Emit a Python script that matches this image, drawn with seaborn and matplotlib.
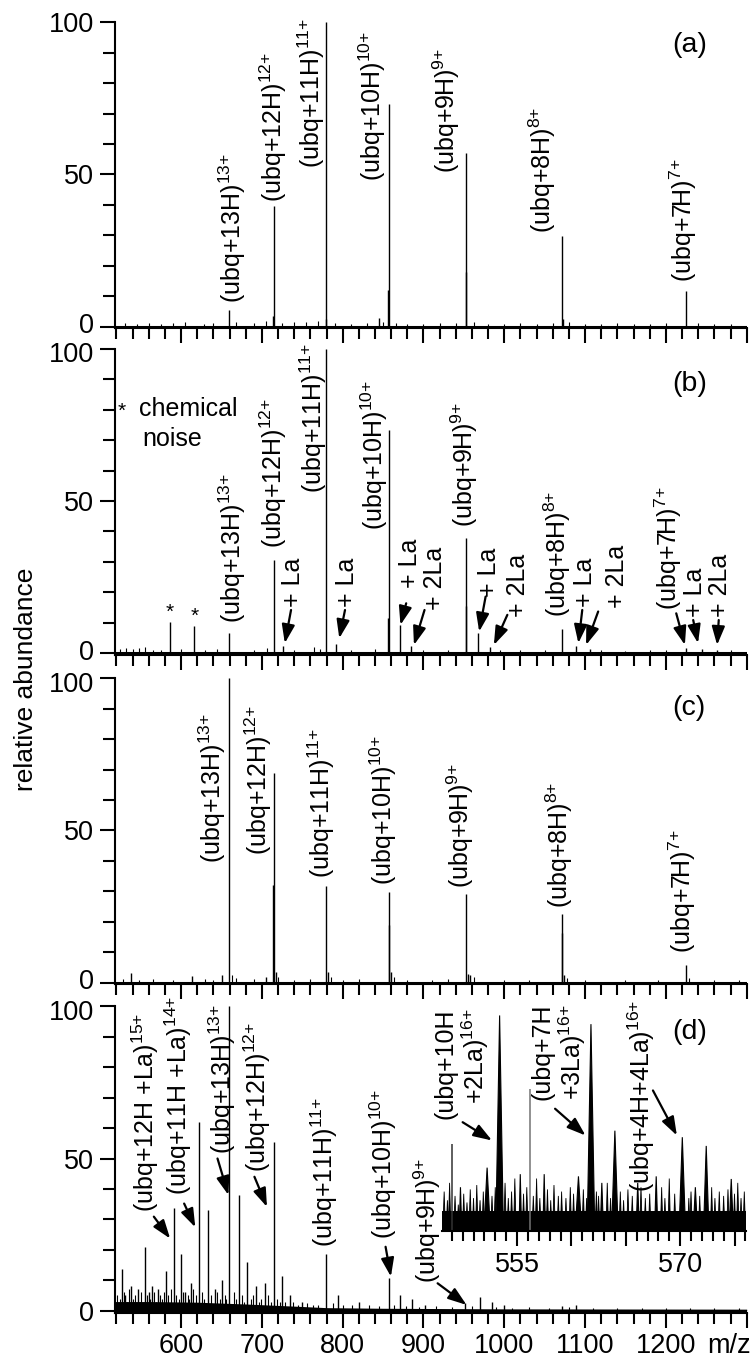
import matplotlib
matplotlib.use('Agg')  # no display
import matplotlib.pyplot as plt
import matplotlib.transforms as mtransforms
import seaborn as sns
from matplotlib import font_manager

# ---------------------------------------------------------------------------
# data: (m/z, relative abundance)
# ---------------------------------------------------------------------------
a_peaks = [(659.8, 5.5), (714.7, 39.5), (714.3, 3.5), (779.6, 100), (779.0, 2.5),
           (857.5, 73), (855.6, 12), (844.7, 2.7), (952.7, 57), (952.2, 18),
           (1071.7, 29.8), (1072.5, 2.5), (1224.6, 11.7)]
b_peaks = [(586.5, 10.4), (616.3, 9.1), (659.8, 6.6), (714.7, 30.6), (726.1, 2.5),
           (779.6, 100), (792.1, 3.0), (857.5, 73.5), (855.6, 11.5), (871.1, 9.3),
           (884.5, 2.5), (952.7, 38), (952.2, 15.5), (967.8, 6.6), (982.5, 2.0),
           (1071.7, 7.9), (1088.6, 2.5), (1105.5, 1.5), (1224.6, 1.6), (1244.4, 1.5),
           (1263.4, 1.2)]
c_peaks = [(537.6, 3.1), (613.3, 2.3), (650.9, 2.5), (659.8, 100), (704.5, 2.0),
           (714.7, 68.9), (714.2, 32), (717.0, 3.5), (779.6, 31.8), (782.0, 3.5),
           (857.5, 29.9), (856.8, 19), (860.0, 3.5), (952.7, 29), (955.0, 3.0),
           (958.0, 2.5), (1071.7, 22.6), (1071.2, 16.4), (1074.0, 2.5), (1224.6, 5.8)]
d_peaks = [(526.8, 13.6), (531.0, 5), (537.6, 8), (546.5, 7), (555.4, 21), (560.0, 6),
           (564.4, 8), (571.7, 7), (581.7, 13), (591.2, 33.6), (599.6, 18.5), (605.0, 6),
           (612.1, 9), (622.8, 62), (633.0, 33), (641.9, 7), (650.9, 10), (659.8, 100),
           (671.1, 38), (681.9, 16), (692.6, 8), (703.3, 9), (714.7, 55.5), (725.4, 11.5),
           (734.3, 5), (749.2, 3), (779.6, 18.5), (794.0, 5), (820.8, 3), (857.5, 10.6),
           (871.5, 5), (886.4, 4), (901.3, 2), (952.0, 2.5), (969.9, 4.5), (984.8, 3),
           (999.7, 2), (1071.2, 1.5), (1089.1, 2)]

# low baseline grass
a_grass = [(530, 1.2), (545, 1.0), (560, 1.3), (575, 0.9), (590, 1.1), (605, 1.4),
           (628, 1.0), (640, 1.2), (668, 1.5), (690, 1.1), (705, 1.8), (725, 1.3),
           (740, 1.6), (755, 1.4), (770, 1.9), (790, 1.2), (810, 1.0), (830, 1.1),
           (850, 1.5), (866, 1.3), (880, 1.0), (900, 0.9), (920, 1.2), (940, 1.1),
           (962, 1.6), (980, 1.0), (1000, 0.9), (1020, 1.2), (1040, 1.0), (1060, 1.1),
           (1080, 1.4), (1100, 1.0), (1120, 0.8), (1140, 1.2), (1160, 0.9), (1180, 1.0),
           (1200, 1.1), (1240, 1.3), (1260, 0.9), (1280, 1.0)]
b_grass = [(525, 1.5), (532, 1.8), (540, 1.4), (548, 1.6), (555, 2.0), (565, 1.2),
           (575, 1.0), (600, 1.3), (630, 1.1), (645, 1.5), (690, 1.0), (706, 1.6),
           (740, 1.2), (765, 1.9), (772, 1.4), (810, 1.0), (840, 1.3), (900, 1.2),
           (930, 1.0), (995, 1.1), (1020, 1.0), (1050, 0.9), (1120, 1.0), (1150, 0.8),
           (1180, 1.0), (1200, 0.9), (1280, 1.0)]
c_grass = [(528, 1.2), (548, 1.0), (565, 1.1), (590, 1.0), (630, 1.2), (640, 1.0),
           (663, 2.5), (668, 1.5), (690, 1.1), (720, 2.0), (740, 1.0), (760, 1.1),
           (785, 2.0), (800, 1.0), (820, 1.1), (863, 2.0), (880, 1.0), (910, 1.0),
           (930, 1.1), (962, 2.0), (1000, 1.0), (1030, 1.0), (1078, 1.5), (1100, 1.0),
           (1150, 0.9), (1190, 1.0), (1228, 1.5), (1260, 0.9), (1290, 1.0)]
d_grass = [(521, 5), (524, 4), (529, 6), (533, 3), (535, 7), (540, 4), (543, 5), (549, 3),
           (551, 6), (558, 5), (562, 4), (567, 6), (569, 3), (574, 5), (577, 4), (579, 6),
           (584, 5), (587, 7), (594, 5), (597, 4), (602, 6), (608, 5), (610, 4), (615, 7),
           (618, 5), (626, 6), (629, 4), (637, 5), (645, 6), (648, 4), (654, 5), (656, 4),
           (665, 6), (668, 4), (675, 5), (678, 3), (686, 4), (689, 5), (696, 3), (699, 4),
           (708, 5), (711, 3), (719, 4), (722, 3), (729, 3), (738, 3), (745, 2), (756, 2.5),
           (763, 2), (770, 2), (788, 2.5), (800, 2), (812, 1.8), (832, 2), (845, 1.5),
           (864, 1.8), (878, 1.5), (895, 1.2), (915, 1.5), (935, 1.2), (960, 1.5),
           (990, 1.2), (1010, 1.0), (1030, 1.2), (1055, 1.0), (1080, 1.1), (1110, 1.0),
           (1140, 0.9), (1170, 1.0), (1200, 0.9), (1230, 1.0), (1260, 0.8), (1290, 1.0)]
# dense noise band under the (d) spectrum
d_floor_mz = [518.6, 560, 620, 680, 740, 780, 850, 1000, 1300]
d_floor = [3.0, 3.0, 2.8, 2.2, 1.5, 1.0, 0.8, 0.6, 0.5]

# peak labels: (text, charge, m/z of label centre, label bottom)
a_labels = [('(ubq+13H)', '13', 662.8, 7.7), ('(ubq+12H)', '12', 714.7, 41),
            ('(ubq+11H)', '11', 761.2, 52), ('(ubq+10H)', '10', 836.9, 47.7),
            ('(ubq+9H)', '9', 928.1, 50.4), ('(ubq+8H)', '8', 1047.4, 30.7),
            ('(ubq+7H)', '7', 1222, 14.8)]
b_labels = [('(ubq+13H)', '13', 662.8, 9.8), ('(ubq+12H)', '12', 714.7, 34.5),
            ('(ubq+11H)', '11', 764.2, 52.5), ('(ubq+10H)', '10', 838.7, 40.5),
            ('(ubq+9H)', '9', 950.0, 41.6), ('(ubq+8H)', '8', 1066.0, 12),
            ('(ubq+7H)', '7', 1202.4, 14.2)]
c_labels = [('(ubq+13H)', '13', 638.9, 39.3), ('(ubq+12H)', '12', 695.6, 42),
            ('(ubq+11H)', '11', 773.1, 34.3), ('(ubq+10H)', '10', 850.6, 32.1),
            ('(ubq+9H)', '9', 946.0, 31), ('(ubq+8H)', '8', 1068.3, 24.5),
            ('(ubq+7H)', '7', 1220.3, 9.6)]
d_labels = [('(ubq+12H +La)', '15', 555.5, 32.5), ('(ubq+11H +La)', '14', 597.0, 38),
            ('(ubq+13H)', '13', 650.9, 51.6), ('(ubq+12H)', '12', 693.8, 45.6),
            ('(ubq+11H)', '11', 777.3, 21), ('(ubq+10H)', '10', 850.6, 23.7),
            ('(ubq+9H)', '9', 904.3, 9)]

# adduct labels in (b): (text, m/z, bottom)
b_adduct_labels = [('+ La', 738.5, 15.3), ('+ La', 805.9, 15.3), ('+ La', 883.5, 21.3),
                   ('+ 2La', 914.5, 14.2), ('+ La', 980.5, 18.6), ('+ 2La', 1017.0, 12),
                   ('+ La', 1100.0, 15.3), ('+ 2La', 1140.0, 14.8), ('+ La', 1235.5, 12),
                   ('+ 2La', 1267.5, 12)]
# arrows: (tail m/z, tail y, tip m/z, tip y)
b_arrows = [(736.1, 14.2, 728.4, 3.3), (802.9, 14.2, 795.8, 4.9), (878.6, 16.4, 871.5, 9.3),
            (901.3, 14.2, 888.2, 2.7), (976.9, 18.6, 968.9, 7.1), (1003.8, 12.6, 987.1, 2.7),
            (1096.5, 14.2, 1091.7, 3.3), (1116.2, 13.7, 1101.2, 2.7), (1233.8, 10.9, 1239.8, 3.3),
            (1265.4, 10.9, 1263.4, 2.7), (1212.8, 13.1, 1223.5, 2.7)]
b_stars = [(586.5, 13.5), (616.3, 12.0)]
d_arrows = [(566.3, 30.9, 586.5, 23.7), (603.8, 35.2, 617.6, 27.4), (645.1, 50, 658.6, 38),
            (690.8, 44, 706.3, 34.1), (853.1, 21, 859.7, 11.2), (917.5, 9, 953.3, 1.9)]

# inset of (d): broad peaks (m/z, height, half width), thin lines, noise
inset_peaks = [(552.25, 29, 0.3), (553.4, 99, 0.35), (555.3, 26, 0.12), (557.5, 26, 0.12),
               (560.65, 25, 0.3), (561.8, 95, 0.35), (562.8, 22, 0.15), (564.0, 46, 0.3),
               (566.1, 22, 0.15), (567.8, 25, 0.15), (570.2, 43, 0.3), (571.4, 20, 0.2),
               (572.4, 39, 0.25), (574.7, 23.8, 0.2), (549.8, 20, 0.12)]
inset_thin = [(549.0, 40, '0.2'), (556.2, 65, '0.45')]
inset_grass = [(548.3, 18), (548.6, 14), (548.8, 22), (549.3, 16), (549.6, 12), (550.1, 17),
               (550.4, 13), (550.7, 19), (551.0, 15), (551.3, 21), (551.6, 14), (551.9, 18),
               (552.7, 16), (553.0, 20), (553.9, 22), (554.2, 15), (554.5, 18), (554.8, 24),
               (555.6, 17), (555.9, 20), (556.5, 16), (556.8, 24), (557.1, 15), (557.8, 19),
               (558.1, 14), (558.4, 21), (558.8, 16), (559.1, 18), (559.5, 15), (559.9, 20),
               (560.2, 17), (561.1, 19), (561.4, 15), (562.3, 18), (562.5, 16), (563.3, 22),
               (563.6, 15), (564.5, 18), (564.8, 14), (565.2, 19), (565.6, 16), (566.4, 20),
               (566.8, 15), (567.2, 17), (568.3, 20), (568.6, 15), (569.0, 24), (569.5, 17),
               (570.8, 15), (571.0, 18), (571.8, 16), (572.9, 20), (573.2, 15), (573.6, 18),
               (574.0, 16), (574.4, 19), (575.0, 17), (575.3, 22), (575.6, 15), (575.9, 18)]
inset_floor = 9
inset_labels = [('(ubq+10H', '', 548.4, 51.5), ('+2La)', '16', 551.2, 58.4),
                ('(ubq+7H', '', 557.35, 59.9), ('+3La)', '16', 560.1, 59.9),
                ('(ubq+4H+4La)', '16', 566.4, 17.7)]
inset_arrows = [(550.0, 49.9, 552.7, 41.5), (558.5, 56.1, 561.3, 43.8),
                (567.5, 64.5, 569.7, 43.8)]

panel_letters = ['(a)', '(b)', '(c)', '(d)']
letter_y = [92.4, 88.6, 90.2, 91.6]
x_major = [600, 700, 800, 900, 1000, 1100, 1200, 1300]
x_major_labels = ['600', '700', '800', '900', '1000', '1100', '1200', '']

# ---------------------------------------------------------------------------
sns.set_style('ticks', rc={'axes.edgecolor': 'black', 'xtick.color': 'black',
                           'ytick.color': 'black', 'text.color': 'black'})
names = {f.name for f in font_manager.fontManager.ttflist}
fam = 'Liberation Sans' if 'Liberation Sans' in names else 'DejaVu Sans'
plt.rcParams['font.family'] = [fam, 'DejaVu Sans']
plt.rcParams['mathtext.fontset'] = 'custom'
plt.rcParams['mathtext.rm'] = fam
plt.rcParams['mathtext.default'] = 'regular'

LAB = 18
TICK = 19.5
ARROW = dict(arrowstyle='-|>,head_length=0.8,head_width=0.28', color='k', lw=1.6,
             mutation_scale=14, shrinkA=0, shrinkB=0)

fig = plt.figure(figsize=(7.55, 13.59), dpi=100)
bottoms = [0.7583, 0.5180, 0.2756, 0.0342]
axes = [fig.add_axes([0.1527, b, 0.8363, 0.2253]) for b in bottoms]


def label(ax, txt, z, x, y):
    s = txt + ('$^{' + z + '{+}}$' if z else '')
    ax.text(x, y, s, rotation=90, ha='center', va='bottom', fontsize=LAB)


def draw_panel(ax, peaks, grass, labels, letter, ly):
    mz, h = zip(*grass)
    ax.vlines(mz, 0, h, color='k', lw=0.8)
    mz, h = zip(*peaks)
    ax.vlines(mz, 0, h, color='k', lw=1.0, clip_on=False)
    ax.axhline(0, color='k', lw=2.2)
    for txt, z, x, y in labels:
        label(ax, txt, z, x, y)
    ax.text(1229, ly, letter, ha='center', va='center', fontsize=20.5)

    ax.set_xlim(518.6, 1300)
    ax.set_ylim(-0.6, 100)
    ax.set_xticks(x_major)
    ax.set_xticks(range(520, 1301, 20), minor=True)
    ax.set_yticks([0, 50, 100])
    ax.set_yticks(range(0, 101, 10), minor=True)
    ax.tick_params(axis='x', which='major', length=11, width=1.5, direction='out',
                   labelsize=TICK, pad=4)
    ax.tick_params(axis='x', which='minor', length=8, width=1.5, direction='out')
    ax.tick_params(axis='y', which='major', length=10.5, width=1.5, direction='out',
                   labelsize=TICK, pad=5)
    ax.tick_params(axis='y', which='minor', length=9, width=1.5, direction='out')
    sns.despine(ax=ax)
    for s in ax.spines.values():
        s.set_linewidth(1.5)
    ax.patch.set_alpha(0)


data = [(a_peaks, a_grass, a_labels), (b_peaks, b_grass, b_labels),
        (c_peaks, c_grass, c_labels), (d_peaks, d_grass, d_labels)]
for i, ax in enumerate(axes):
    pk, gr, lb = data[i]
    draw_panel(ax, pk, gr, lb, panel_letters[i], letter_y[i])
    if i < 3:
        ax.tick_params(axis='x', labelbottom=False)
    else:
        ax.set_xticklabels(x_major_labels)

# the "0" of one panel and the "100" of the next sit very close: nudge apart
up = mtransforms.ScaledTranslation(0, 2.5 / 72, fig.dpi_scale_trans)
down = mtransforms.ScaledTranslation(0, -2.5 / 72, fig.dpi_scale_trans)
for i, ax in enumerate(axes):
    ticks = ax.yaxis.get_major_ticks()
    if i < 3:
        ticks[0].label1.set_transform(ticks[0].label1.get_transform() + up)
    if i > 0:
        ticks[2].label1.set_transform(ticks[2].label1.get_transform() + down)

# panel (b) extras
ax = axes[1]
for txt, x, y in b_adduct_labels:
    label(ax, txt, '', x, y)
for x0, y0, x1, y1 in b_arrows:
    ax.annotate('', xy=(x1, y1), xytext=(x0, y0), arrowprops=ARROW)
for x, y in b_stars:
    ax.text(x, y, '*', ha='center', va='center', fontsize=15)
ax.text(527.1, 79.5, '*', ha='center', va='center', fontsize=15)
ax.text(547.4, 80.2, 'chemical', ha='left', va='center', fontsize=LAB)
ax.text(551.6, 70.4, 'noise', ha='left', va='center', fontsize=LAB)

# panel (d) extras
ax = axes[3]
ax.fill_between(d_floor_mz, 0, d_floor, color='k', lw=0)
for x0, y0, x1, y1 in d_arrows:
    ax.annotate('', xy=(x1, y1), xytext=(x0, y0), arrowprops=ARROW)
ax.annotate('m/z', xy=(1.0, 0), xycoords='axes fraction', xytext=(3, -15),
            textcoords='offset points', ha='right', va='top', fontsize=TICK)

fig.text(0.034, 0.5, 'relative abundance', rotation=90, ha='center', va='center',
         fontsize=19)

# inset in (d)
ins = fig.add_axes([0.5854, 0.0944, 0.4033, 0.160])
ins.patch.set_alpha(0)
ins.fill_between([548.1, 576.1], 0, inset_floor, color='k', lw=0)
for c, h in inset_grass:
    ins.fill([c - 0.12, c, c + 0.12], [0, h, 0], color='k', lw=0.6)
for c, h, w in inset_peaks:
    ins.fill([c - w, c, c + w], [0, h, 0], color='k', lw=0.8)
for c, h, col in inset_thin:
    ins.vlines(c, 0, h, color=col, lw=1.1)
for txt, z, x, y in inset_labels:
    label(ins, txt, z, x, y)
for x0, y0, x1, y1 in inset_arrows:
    ins.annotate('', xy=(x1, y1), xytext=(x0, y0), arrowprops=ARROW)
ins.set_xlim(548.1, 576.1)
ins.set_ylim(0, 100)
ins.set_xticks([555, 560, 565, 570, 575])
ins.set_xticklabels(['555', '', '', '570', ''])
ins.set_xticks(range(549, 577), minor=True)
ins.set_yticks([])
ins.tick_params(axis='x', which='major', length=11, width=1.5, direction='out',
                labelsize=TICK, pad=4)
ins.tick_params(axis='x', which='minor', length=7.5, width=1.5, direction='out')
sns.despine(ax=ins, left=True)
ins.spines['bottom'].set_linewidth(1.5)

fig.savefig('out.png', dpi=100)
